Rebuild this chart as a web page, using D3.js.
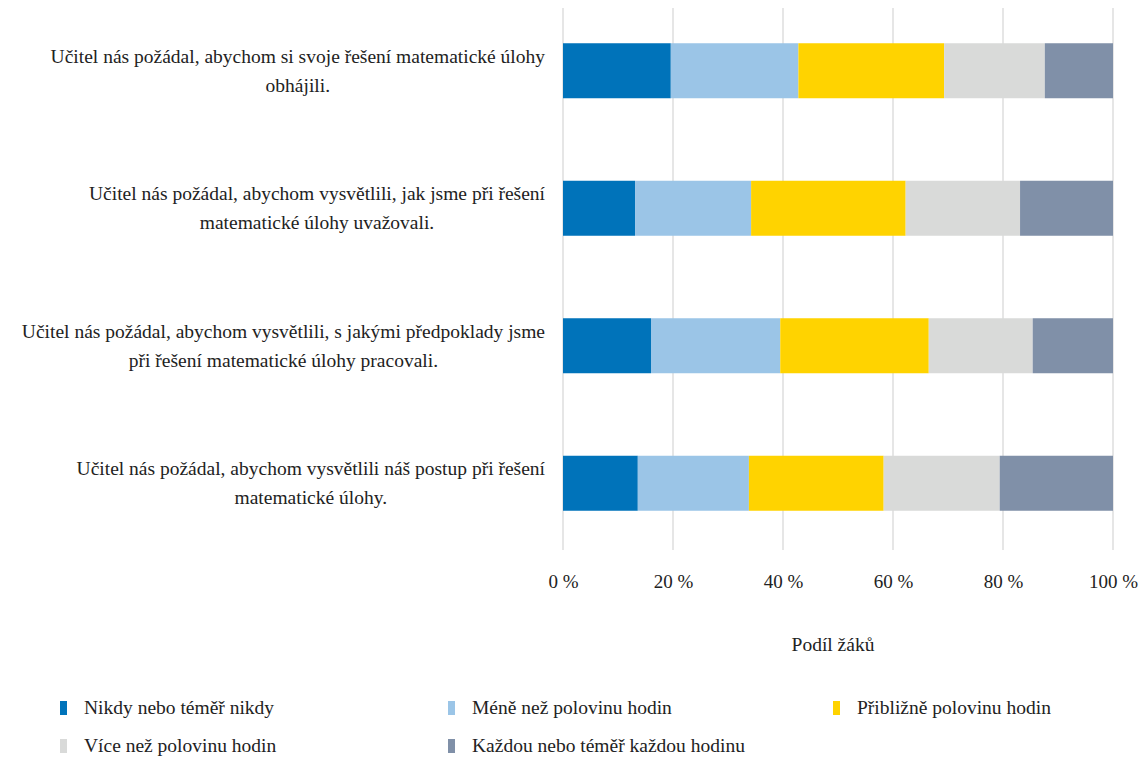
<!DOCTYPE html>
<html><head><meta charset="utf-8">
<script src="https://cdn.jsdelivr.net/npm/d3@7"></script>
<style>body{margin:0;background:#fff}svg{display:block}text{font-family:"Liberation Serif","Times New Roman",serif;fill:#222}</style>
</head><body><svg id="c" width="1140" height="760"></svg>
<script>
const categories = [
  ["Učitel nás požádal, abychom si svoje řešení matematické úlohy", "obhájili."],
  ["Učitel nás požádal, abychom vysvětlili, jak jsme při řešení", "matematické úlohy uvažovali."],
  ["Učitel nás požádal, abychom vysvětlili, s jakými předpoklady jsme", "při řešení matematické úlohy pracovali."],
  ["Učitel nás požádal, abychom vysvětlili náš postup při řešení", "matematické úlohy."]
];
const seriesNames = ["Nikdy nebo téměř nikdy", "Méně než polovinu hodin", "Přibližně polovinu hodin", "Více než polovinu hodin", "Každou nebo téměř každou hodinu"];
const nikdy    = [19.6, 13.1, 16.0, 13.6];
const mene     = [23.2, 21.1, 23.5, 20.2];
const priblizne= [26.5, 28.1, 27.0, 24.5];
const vice     = [18.3, 20.8, 18.9, 21.1];
const kazdou   = [12.4, 16.9, 14.6, 20.6];
const tickValues = [0, 20, 40, 60, 80, 100];
const axisTitle = "Podíl žáků";
const colors = ["#0073BA", "#9BC5E7", "#FFD300", "#D9DAD9", "#8090A8"];

const seriesVals = [nikdy, mene, priblizne, vice, kazdou];
const rows = categories.map((c, i) => {
  const o = {key: i};
  seriesNames.forEach((s, j) => o[s] = seriesVals[j][i]);
  return o;
});
const stacked = d3.stack().keys(seriesNames)(rows);

const svg = d3.select("#c");
const x = d3.scaleLinear().domain([0, 100]).range([563, 1113]);
const y = d3.scaleBand().domain(d3.range(categories.length)).range([2, 552]).paddingInner(0.6).paddingOuter(0.3);

// gridlines
svg.append("g").selectAll("line").data(tickValues).join("line")
  .attr("x1", d => x(d)).attr("x2", d => x(d)).attr("y1", 8).attr("y2", 550)
  .attr("stroke", "#d9d9d9").attr("stroke-width", 1.3);

// bars
svg.append("g").selectAll("g").data(stacked).join("g")
  .attr("fill", (d, i) => colors[i])
  .selectAll("rect").data(d => d).join("rect")
  .attr("x", d => x(d[0])).attr("width", d => x(d[1]) - x(d[0]))
  .attr("y", (d, i) => y(i)).attr("height", y.bandwidth());

// tick labels
const axis = d3.axisBottom(x).tickValues(tickValues).tickFormat(d => d + " %").tickSize(0);
const ag = svg.append("g").attr("transform", "translate(0,574)").call(axis);
ag.select(".domain").remove();
ag.selectAll("text").attr("font-size", 19).attr("dy", "0.71em").attr("y", 0);

svg.append("text").attr("x", 833).attr("y", 651).attr("text-anchor", "middle").attr("font-size", 19.5).text(axisTitle);

// category labels
const lg = svg.append("g");
categories.forEach((lines, i) => {
  const cy = y(i) + y.bandwidth() / 2;
  const g = lg.append("g");
  const t = g.append("text").attr("font-size", 19.5).attr("text-anchor", "middle");
  lines.forEach((l, k) => t.append("tspan").attr("x", 0).attr("y", cy - 14 + k * 29 + 6).text(l));
  const w = d3.max(t.selectAll("tspan").nodes(), n => n.getComputedTextLength());
  g.attr("transform", `translate(${545 - w / 2},0)`);
});

// legend
const legPos = [[60, 708], [448, 708], [833, 708], [60, 746], [448, 746]];
const leg = svg.append("g");
seriesNames.forEach((s, i) => {
  const [lx, ly] = legPos[i];
  leg.append("rect").attr("x", lx).attr("y", ly - 7).attr("width", 7).attr("height", 14).attr("fill", colors[i]);
  leg.append("text").attr("x", lx + 24).attr("y", ly + 6).attr("font-size", 19.5).text(s);
});
</script></body></html>
